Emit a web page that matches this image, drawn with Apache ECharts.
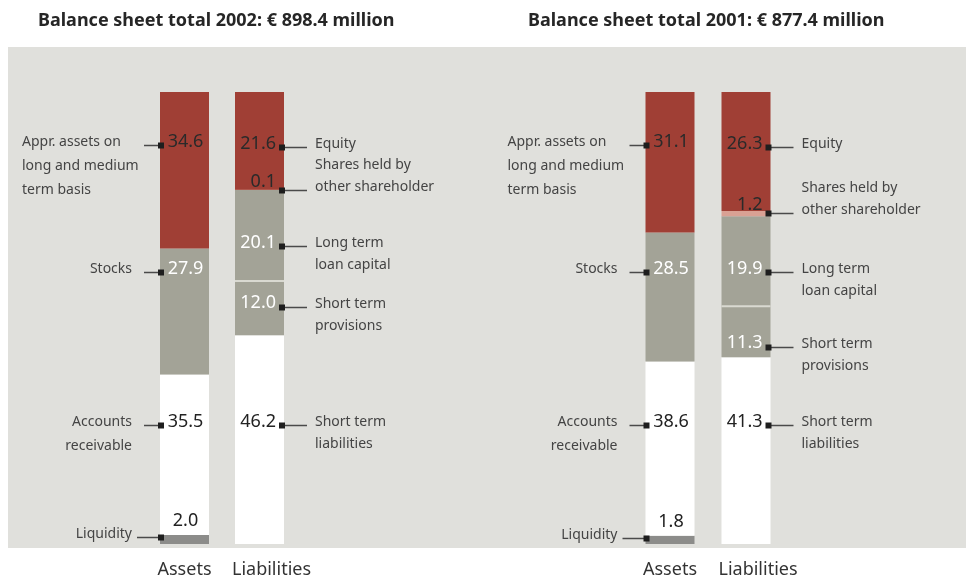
<!DOCTYPE html>
<html>
<head>
<meta charset="utf-8">
<title>Balance sheet</title>
<script src="https://cdn.jsdelivr.net/npm/echarts@6/dist/echarts.min.js"></script>
<style>
html, body { margin: 0; padding: 0; background: #fff; }
#main { width: 966px; height: 579px; }
</style>
</head>
<body>
<div id="main"></div>
<script>
var categories = ['Assets', 'Liabilities'];
var years = ['2002', '2001'];
var totals = [898.4, 877.4];
// segments from bottom to top
var assetNames = ['Liquidity', 'Accounts\nreceivable', 'Stocks', 'Appr. assets on\nlong and medium\nterm basis'];
var liabNames = ['Short term\nliabilities', 'Short term\nprovisions', 'Long term\nloan capital', 'Shares held by\nother shareholder', 'Equity'];
var assets2002 = [2.0, 35.5, 27.9, 34.6];
var liab2002 = [46.2, 12.0, 20.1, 0.1, 21.6];
var assets2001 = [1.8, 38.6, 28.5, 31.1];
var liab2001 = [41.3, 11.3, 19.9, 1.2, 26.3];

var assetColors = ['#8c8c8a', '#ffffff', '#a3a397', '#a03f35'];
var liabColors = ['#ffffff', '#a3a397', '#a3a397', '#d9a194', '#a03f35'];
var assetTextColors = ['#222', '#222', '#fff', '#2a2a2a'];
var liabTextColors = ['#222', '#fff', '#fff', '#2a2a2a', '#2a2a2a'];

// leader line heights, in axis units (percent of the total, from the bottom)
var assetAnchors = [[1.5, 26.3, 60.1, 88.2], [1.3, 26.3, 60.1, 88.2]];
var liabAnchors = [[26.3, 52.4, 66.0, 78.3, 87.9], [26.3, 43.6, 60.1, 73.2, 87.9]];
var assetValDy = [-17, -4, -4, -4];
var liabValDy = [-4, -5, -4, -9, -4];

var panels = [
    { assets: assets2002, liab: liab2002 },
    { assets: assets2001, liab: liab2001 }
];
var gridPos = [{ left: 147, width: 150 }, { left: 632, width: 152 }];
var FONT = '"Noto Sans", sans-serif';

var chart = echarts.init(document.getElementById('main'));

var series = [];
panels.forEach(function (p, g) {
    p.assets.forEach(function (v, i) {
        series.push({
            type: 'bar', name: assetNames[i], xAxisIndex: g, yAxisIndex: g,
            stack: 'p' + g, barWidth: 49, silent: true,
            data: [v, '-'],
            itemStyle: { color: assetColors[i] }
        });
    });
    p.liab.forEach(function (v, i) {
        series.push({
            type: 'bar', name: liabNames[i], xAxisIndex: g, yAxisIndex: g,
            stack: 'p' + g, barWidth: 49, silent: true,
            barMinHeight: i === 3 ? 2 : 0,
            data: ['-', v],
            itemStyle: { color: liabColors[i] }
        });
    });
});

var option = {
    animation: false,
    backgroundColor: '#ffffff',
    title: years.map(function (y, g) {
        return {
            text: 'Balance sheet total ' + y + ': € ' + totals[g].toFixed(1) + ' million',
            left: g === 0 ? 38 : 528, top: 12, padding: 0,
            textStyle: { fontFamily: FONT, fontSize: 18, fontWeight: 'bold', color: '#262626' }
        };
    }),
    grid: gridPos.map(function (gp) {
        return { left: gp.left, width: gp.width, top: 92, height: 456 };
    }),
    xAxis: gridPos.map(function (gp, g) {
        return {
            type: 'category', gridIndex: g, data: categories,
            axisLine: { show: false }, axisTick: { show: false },
            axisLabel: {
                interval: 0, hideOverlap: false,
                margin: 17, fontFamily: FONT, fontSize: 18, color: '#333',
                formatter: function (v) { return v === 'Liabilities' ? '{l|' + v + '}' : v; },
                rich: { l: { padding: [0, 0, 0, 24], fontFamily: FONT, fontSize: 18, color: '#333' } }
            }
        };
    }),
    yAxis: gridPos.map(function (gp, g) {
        return { type: 'value', gridIndex: g, min: 0, max: 100, show: false };
    }),
    series: series
};
chart.setOption(option);

// leader lines, markers and labels
var els = [{
    type: 'rect', z: -10, silent: true,
    shape: { x: 8, y: 47, width: 958, height: 501 },
    style: { fill: '#e0e0dc' }
}];
function px(g, cat, val) { return chart.convertToPixel({ gridIndex: g }, [cat, val]); }
function line(x1, x2, y) {
    els.push({ type: 'line', z: 50, shape: { x1: x1, y1: y, x2: x2, y2: y }, style: { stroke: '#4a4a4a', lineWidth: 1.5 } });
}
function square(cx, cy) {
    els.push({ type: 'rect', z: 51, shape: { x: cx - 3, y: cy - 3, width: 6, height: 6 }, style: { fill: '#1e1e1e' } });
}
function text(t, x, y, align, vAlign, size, color, lh) {
    els.push({
        type: 'text', z: 52, x: x, y: y,
        style: { text: t, align: align, verticalAlign: vAlign, font: size + 'px ' + FONT, fill: color, lineHeight: lh || size }
    });
}

panels.forEach(function (p, g) {
    p.assets.forEach(function (v, i) {
        var pt = px(g, 'Assets', assetAnchors[g][i]);
        var xL = pt[0] - 24.5, y = Math.round(pt[1]) + 0.5;
        line(xL - (i === 0 ? 23 : 16), xL, y);
        square(xL + 1, y);
        text(v.toFixed(1), pt[0] + 1, y + assetValDy[i], 'center', 'middle', 18, assetTextColors[i]);
        if (i === 3) {
            text(assetNames[i], xL - 138, y - 3 - 12, 'left', 'top', 14, '#444', 24);
        } else {
            text(assetNames[i], xL - 28, y - 3 - 12, 'right', 'top', 14, '#444', 24);
        }
    });
    p.liab.forEach(function (v, i) {
        var pt = px(g, 'Liabilities', liabAnchors[g][i]);
        var xR = pt[0] + 24.5, y = Math.round(pt[1]) + 0.5;
        line(xR, xR + 23, y);
        square(xR - 2, y);
        text(v.toFixed(1), xR - 8, y + liabValDy[i], 'right', 'middle', 18, liabTextColors[i]);
        var top = i === 3 ? y - 3 - 11 - 22 : y - 3 - 11;
        text(liabNames[i], xR + 31, top, 'left', 'top', 14, '#444', 22);
    });
    // thin light gap between long term loan capital and provisions
    var sp = px(g, 'Liabilities', p.liab[0] + p.liab[1]);
    els.push({
        type: 'rect', z: 40,
        shape: { x: sp[0] - 24.5, y: sp[1] - 1, width: 49, height: 2 },
        style: { fill: '#d9d9d1' }
    });
});

chart.setOption({ graphic: { elements: els } });

window.addEventListener('resize', function () {
    chart.resize();
});
</script>
</body>
</html>
